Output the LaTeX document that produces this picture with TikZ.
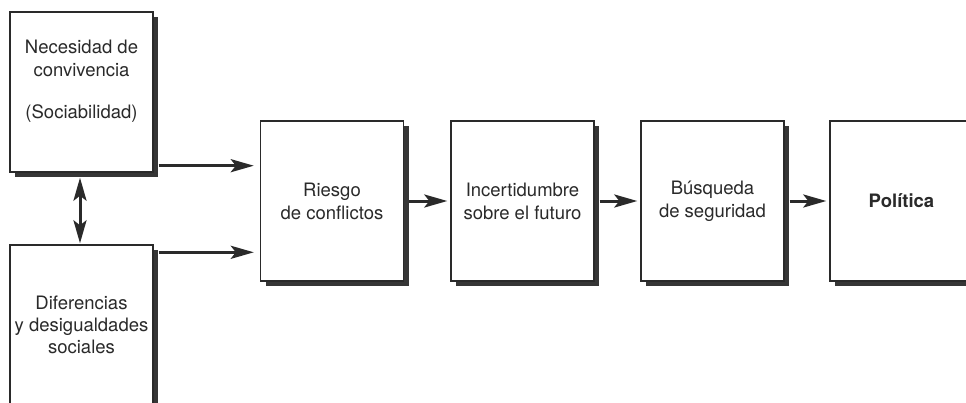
\documentclass[tikz,border=0pt]{standalone}
\usepackage{fontspec}
\setmainfont{TeX Gyre Heros}
\usetikzlibrary{arrows.meta,shadows,calc}
\definecolor{ink}{HTML}{2A2A2A}
\definecolor{shade}{HTML}{363636}
\tikzset{mytip/.tip={Stealth[length=23pt,width=13pt,inset=5pt]}}
\begin{document}
\begin{tikzpicture}[x=1pt,y=-1pt,
  box/.style={draw=ink, line width=1.4pt, fill=white, minimum width=143pt,
    minimum height=160pt, inner sep=0pt, align=center, text=ink,
    font=\fontsize{18.5}{23}\selectfont,
    drop shadow={shadow xshift=5pt, shadow yshift=-5pt, fill=shade, opacity=1}},
  arr/.style={draw=ink, line width=3pt, -mytip},
  dblarr/.style={draw=ink, line width=3pt, mytip-mytip},
  txt/.style={align=center, text=ink, font=\fontsize{18.5}{23}\selectfont}]
\useasboundingbox (0,0) rectangle (966,402);
\clip (0,0) rectangle (966,402);
\fill[white] (0,0) rectangle (966,402);

\node[box] (n1) at (81.5,92) {};
\node[txt] (n1t) at ($(n1.center)+(0,-11)$) {Necesidad de\\convivencia\\[19pt](Sociabilidad)};
\node[box, font=\fontsize{18.5}{22}\selectfont] (n2) at (81.5,325) {Diferencias\\y desigualdades\\sociales};
\node[box] (riesgo) at (332,201) {Riesgo\\de conflictos};
\node[box] (incert) at (522.5,201) {Incertidumbre\\sobre el futuro};
\node[box] (busq) at (712.5,201) {Búsqueda\\de seguridad};
\node[box, font=\fontsize{18.5}{23}\selectfont\bfseries] (pol) at (901.5,201) {Política};

\coordinate (s1) at ($(n1.south east)+(5,-7)$);
\coordinate (s2) at ($(n2.north east)+(5,8)$);
\draw[arr, shorten >=6pt] (s1) -- (s1 -| riesgo.west);
\draw[arr, shorten >=6pt] (s2) -- (s2 -| riesgo.west);
\draw[dblarr, shorten <=5pt, shorten >=1pt] ([xshift=-1.5pt]n1.south) -- ([xshift=-1.5pt]n2.north);
\draw[arr, shorten <=5pt, shorten >=3pt] (riesgo.east) -- (incert.west);
\draw[arr, shorten <=5pt, shorten >=3pt] (incert.east) -- (busq.west);
\draw[arr, shorten <=5pt, shorten >=3pt] (busq.east) -- (pol.west);
\end{tikzpicture}
\end{document}
